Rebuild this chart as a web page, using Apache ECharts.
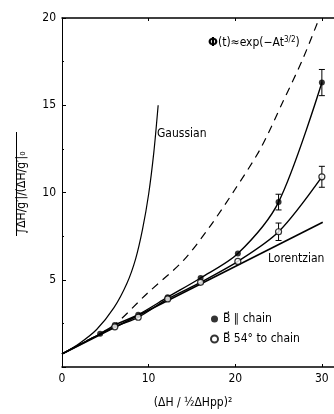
<!DOCTYPE html>
<html><head><meta charset="utf-8">
<script src="https://cdn.jsdelivr.net/npm/echarts@6/dist/echarts.min.js"></script>
<style>html,body{margin:0;padding:0;background:#fff}#c{width:334px;height:414px}</style>
</head><body><div id="c"></div>
<script>
// ---- data ----
const xTicks = [0, 10, 20, 30];
const yTicks = [5, 10, 15, 20];
const gaussian = [[0,0.75],[2,1.35],[4,2.15],[6,3.4],[7.5,4.8],[8.5,6.2],[9.3,7.9],[10,9.9],[10.6,12.3],[11.1,15]];
const stretched = [[0,0.75],[3,1.55],[6,2.4],[9.8,4.2],[14,6.1],[17,8.0],[20,10.2],[22.9,12.5],[25.5,15.2],[27.8,17.65],[29.7,20]];
const lorentzian = [[0,0.75],[30.1,8.3]];
const parallelPts = [[4.4,1.9],[6.1,2.4],[8.8,3.0],[12.2,4.0],[16,5.1],[20.3,6.5],[25,9.45],[30,16.3]];
const anglePts = [[6.1,2.3],[8.8,2.85],[12.2,3.9],[16,4.85],[20.3,6.05],[25,7.75],[30,10.9]];
const parallelCurve = [[0,0.75],[4.4,1.9],[6.1,2.4],[8.8,3.0],[12.2,4.0],[16,5.1],[20.3,6.5],[25,9.45],[30,16.3]];
const angleCurve = [[0,0.75],[6.1,2.3],[8.8,2.85],[12.2,3.9],[16,4.85],[20.3,6.05],[25,7.75],[30,10.9]];
const parallelErr = [[25,9.45,0.45],[30,16.3,0.75]];
const angleErr = [[25,7.75,0.5],[30,10.9,0.6]];
const names = {par:'B\u20D7 \u2225 chain', ang:'B\u20D7 54\u00B0 to chain'};

const FONT = "'Liberation Sans Narrow','DejaVu Sans Condensed','Liberation Sans',sans-serif";
const chart = echarts.init(document.getElementById('c'));

function errRender(params, api){
  const x = api.value(0), y = api.value(1), e = api.value(2);
  const top = api.coord([x, y+e]), bot = api.coord([x, y-e]);
  const w = 3;
  return {type:'group', children:[
    {type:'line', shape:{x1:top[0],y1:top[1],x2:bot[0],y2:bot[1]}, style:{stroke:'#000',lineWidth:1}},
    {type:'line', shape:{x1:top[0]-w,y1:top[1],x2:top[0]+w,y2:top[1]}, style:{stroke:'#000',lineWidth:1}},
    {type:'line', shape:{x1:bot[0]-w,y1:bot[1],x2:bot[0]+w,y2:bot[1]}, style:{stroke:'#000',lineWidth:1}}
  ]};
}

chart.setOption({
  animation:false,
  backgroundColor:'#fff',
  textStyle:{fontFamily:FONT},
  grid:{left:62, right:0, top:18, bottom:46},
  xAxis:[{
    type:'value', min:0, max:31.4, interval:10,
    axisLine:{show:true, lineStyle:{color:'#000', width:1.5}},
    axisTick:{show:true, inside:true, length:3, lineStyle:{color:'#000'}},
    axisLabel:{show:true, color:'#000', fontSize:12, fontFamily:FONT, margin:6, showMaxLabel:false,
      formatter:v=> xTicks.includes(v) ? String(v) : ''},
    splitLine:{show:false},
    name:'(\u0394H / \u00BD\u0394Hpp)\u00B2', nameLocation:'middle', nameGap:30,
    nameTextStyle:{color:'#000', fontSize:12, fontFamily:FONT, padding:[0,0,0,-10]}
  },{
    type:'value', position:'top', min:0, max:31.4, interval:10,
    axisLine:{show:true, onZero:false, lineStyle:{color:'#000', width:1.5}},
    axisTick:{show:true, inside:true, length:3, lineStyle:{color:'#000'}},
    axisLabel:{show:false}, splitLine:{show:false}
  }],
  yAxis:{
    type:'value', min:0, max:20, interval:5,
    axisLine:{show:true, lineStyle:{color:'#000', width:1}},
    axisTick:{show:true, inside:true, length:4, lineStyle:{color:'#000'}},
    minorTick:{show:true, splitNumber:2, length:2, lineStyle:{color:'#000'}},
    axisLabel:{color:'#000', fontSize:12, fontFamily:FONT, margin:6,
      formatter:v=> yTicks.includes(v) ? String(v) : ''},
    splitLine:{show:false},
    name:'\u222B\u0394H/g\u2032|/(\u0394H/g\u2032|\u2080', nameLocation:'middle', nameGap:34, nameRotate:90,
    nameTextStyle:{color:'#000', fontSize:12, fontFamily:FONT}
  },
  legend:{
    orient:'vertical', left:205, top:308, itemGap:8, itemWidth:7, itemHeight:7,
    textStyle:{color:'#000', fontSize:12, fontFamily:FONT},
    data:[{name:names.par, icon:'circle'},{name:names.ang, icon:'circle'}]
  },
  series:[
    {type:'line', data:gaussian, smooth:0.3, showSymbol:false, lineStyle:{color:'#000', width:1.2}, silent:true},
    {type:'line', data:stretched, smooth:0.3, showSymbol:false, lineStyle:{color:'#000', width:1.2, type:[8,6]}, silent:true},
    {type:'line', data:lorentzian, showSymbol:false, lineStyle:{color:'#000', width:1.6}, silent:true},
    {type:'line', data:parallelCurve, smooth:0.3, showSymbol:false, lineStyle:{color:'#000', width:1.4}, silent:true},
    {type:'line', data:angleCurve, smooth:0.3, showSymbol:false, lineStyle:{color:'#000', width:1.4}, silent:true},
    {type:'custom', renderItem:errRender, data:parallelErr, z:5},
    {type:'custom', renderItem:errRender, data:angleErr, z:5},
    {name:names.par, type:'scatter', data:parallelPts, symbol:'circle', symbolSize:6, itemStyle:{color:'#000'}, z:6},
    {name:names.ang, type:'scatter', data:anglePts, symbol:'circle', symbolSize:6, itemStyle:{color:'#fff', borderColor:'#000', borderWidth:1.2}, z:6}
  ],
  graphic:[
    {type:'text', left:157, top:128, style:{text:'Gaussian', fontSize:12, fontFamily:FONT, fill:'#000'}},
    {type:'text', left:268, top:253, style:{text:'Lorentzian', fontSize:12, fontFamily:FONT, fill:'#000'}},
    {type:'text', left:208, top:36, style:{
      text:'{a|\u03A6}(t)\u2248exp(\u2212At{s|3/2})', fontSize:12, fontFamily:FONT, fill:'#000',
      rich:{a:{fontSize:13, fontWeight:'bold', fontFamily:FONT}, s:{fontSize:8, verticalAlign:'top', padding:[0,0,6,0], fontFamily:FONT}}
    }},
    {type:'line', shape:{x1:16.5, y1:132, x2:16.5, y2:236}, style:{stroke:'#000', lineWidth:1}}
  ]
});
</script></body></html>
